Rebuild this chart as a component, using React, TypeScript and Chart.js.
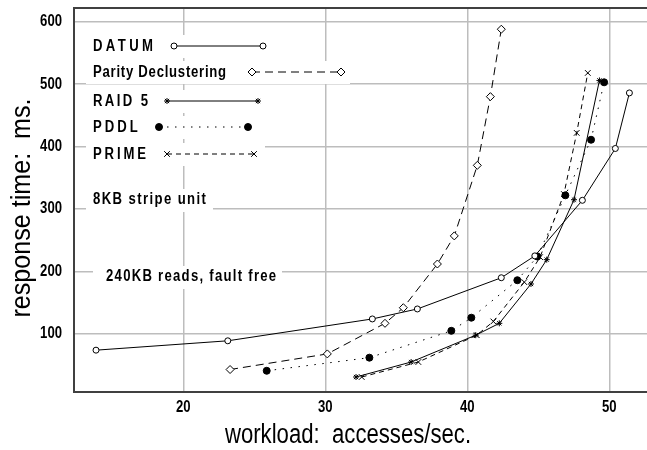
import React, { useEffect, useRef } from "react";
import { Chart, registerables } from "chart.js";
import { drawPoint } from "chart.js/helpers";

Chart.register(...registerables);

const FONT = '"Liberation Sans", Arial, sans-serif';
const NARROW = 0.82;

// ---- data ----
const seriesNames = ["DATUM", "Parity Declustering", "RAID 5", "PDDL", "PRIME"];

const datumX = [13.85, 23.13, 33.31, 36.48, 42.39, 44.75, 48.1, 50.42, 51.41];
const datumY = [74, 89, 124, 140, 190, 225, 314, 397, 486];

const parityX = [23.29, 30.14, 34.2, 35.49, 37.89, 39.08, 40.7, 41.62, 42.39];
const parityY = [43, 68, 117, 142, 212, 257, 370, 480, 588];

const raidX = [32.16, 36.04, 40.59, 42.25, 44.48, 45.59, 47.51, 49.3];
const raidY = [31, 55, 98, 117, 180, 219, 315, 506];

const pddlX = [25.87, 33.1, 38.87, 40.28, 43.52, 44.93, 46.9, 48.71, 49.63];
const pddlY = [41, 62, 105, 126, 186, 224, 322, 411, 503];

const primeX = [32.56, 36.55, 40.66, 41.83, 44.01, 45.12, 46.8, 47.7, 48.48];
const primeY = [31, 55, 98, 120, 183, 223, 324, 422, 518];

const xTicks = [20, 30, 40, 50];
const yTicks = [100, 200, 300, 400, 500, 600];

const xTitle = "workload:  accesses/sec.";
const yTitle = "response time:  ms.";
const notes = ["8KB stripe unit", "240KB reads, fault free"];

// ---- styles ----
const seriesStyles = [
  { pointStyle: "circle", radius: 3, fill: "#ffffff", dash: [] as number[] },
  { pointStyle: "rectRot", radius: 4, fill: "#ffffff", dash: [8, 5] },
  { pointStyle: "star", radius: 3, fill: "#000000", dash: [] as number[] },
  { pointStyle: "circle", radius: 3.5, fill: "#000000", dash: [1.5, 6.5] },
  { pointStyle: "crossRot", radius: 4, fill: "#000000", dash: [5, 4] },
];

const legendLayout = [
  { y: 46, spacing: 3.4, s0: 174, s1: 263, boxR: 272 },
  { y: 72, spacing: 0.75, s0: 252, s1: 341, boxR: 350 },
  { y: 101, spacing: 2.4, s0: 167, s1: 258, boxR: 267 },
  { y: 127, spacing: 3, s0: 159, s1: 248, boxR: 257 },
  { y: 154, spacing: 2.85, s0: 167, s1: 254, boxR: 265 },
];
const noteLayout = [
  { x: 93, y: 200, spacing: 1.4, boxL: 86, boxR: 213 },
  { x: 106, y: 277, spacing: 1.27, boxL: 93, boxR: 282 },
];

const xs = [datumX, parityX, raidX, pddlX, primeX];
const ys = [datumY, parityY, raidY, pddlY, primeY];

function narrowText(ctx: any, text: string, x: number, y: number, spacing: number, scaleX: number) {
  ctx.save();
  ctx.translate(x, y);
  ctx.scale(scaleX, 1);
  ctx.letterSpacing = spacing / scaleX + "px";
  ctx.fillText(text, 0, 0);
  ctx.restore();
}

const annotPlugin = {
  id: "annot",
  beforeDatasetsDraw(chart: any) {
    const ctx = chart.ctx;
    const area = chart.chartArea;
    ctx.save();
    ctx.fillStyle = "#ffffff";
    legendLayout.forEach((l) => {
      ctx.fillRect(86, l.y - 11, l.boxR - 86, 23);
    });
    noteLayout.forEach((n) => {
      ctx.fillRect(n.boxL, n.y - 11, n.boxR - n.boxL, 23);
    });
    // top frame line
    ctx.strokeStyle = "#404040";
    ctx.lineWidth = 2;
    ctx.beginPath();
    ctx.moveTo(area.left - 1, area.top);
    ctx.lineTo(area.right, area.top);
    ctx.stroke();
    ctx.restore();
  },
  afterDatasetsDraw(chart: any) {
    const ctx = chart.ctx;
    ctx.save();
    ctx.fillStyle = "#000000";
    ctx.textBaseline = "middle";
    ctx.textAlign = "left";
    ctx.font = "bold 16px " + FONT;
    seriesNames.forEach((name, i) => {
      const l = legendLayout[i];
      const st = seriesStyles[i];
      ctx.fillStyle = "#000000";
      narrowText(ctx, name, 93, l.y + 1, l.spacing, NARROW);
      ctx.strokeStyle = "#000000";
      ctx.lineWidth = 1;
      ctx.setLineDash(st.dash);
      ctx.beginPath();
      ctx.moveTo(l.s0, l.y);
      ctx.lineTo(l.s1, l.y);
      ctx.stroke();
      ctx.setLineDash([]);
      ctx.fillStyle = st.fill;
      [l.s0, l.s1].forEach((px) => {
        drawPoint(ctx, { pointStyle: st.pointStyle, radius: st.radius, rotation: 0, borderWidth: 1 } as any, px, l.y);
      });
    });
    ctx.fillStyle = "#000000";
    notes.forEach((t, i) => {
      const n = noteLayout[i];
      narrowText(ctx, t, n.x, n.y, n.spacing, NARROW);
    });
    ctx.restore();
  },
  afterDraw(chart: any) {
    const ctx = chart.ctx;
    const xs_ = chart.scales.x;
    const ys_ = chart.scales.y;
    ctx.save();
    ctx.fillStyle = "#000000";
    // tick labels
    ctx.font = "bold 16px " + FONT;
    ctx.textBaseline = "middle";
    ctx.textAlign = "center";
    xTicks.forEach((v) => {
      narrowText(ctx, String(v), xs_.getPixelForValue(v), 408, 0, NARROW);
    });
    ctx.textAlign = "right";
    yTicks.forEach((v) => {
      narrowText(ctx, String(v), 62, ys_.getPixelForValue(v), 0, NARROW);
    });
    // axis titles
    ctx.textAlign = "center";
    ctx.font = "27px " + FONT;
    narrowText(ctx, xTitle, 348, 436, 0, NARROW);
    ctx.translate(23, 208);
    ctx.rotate(-Math.PI / 2);
    narrowText(ctx, yTitle, 0, 0, 0, 0.93);
    ctx.restore();
  },
};

export default function App() {
  const ref = useRef<HTMLCanvasElement>(null);
  useEffect(() => {
    if (!ref.current) return;
    const datasets = seriesNames.map((name, i) => {
      const st = seriesStyles[i];
      return {
        label: name,
        data: xs[i].map((x, j) => ({ x, y: ys[i][j] })),
        borderColor: "#000000",
        borderWidth: 1,
        borderDash: st.dash,
        pointStyle: st.pointStyle,
        pointRadius: st.radius,
        pointBackgroundColor: st.fill,
        pointBorderColor: "#000000",
        pointBorderWidth: 1,
        tension: 0,
        fill: false,
        showLine: true,
      };
    });
    const chart = new Chart(ref.current, {
      type: "scatter",
      data: { datasets } as any,
      plugins: [annotPlugin],
      options: {
        responsive: false,
        animation: false,
        devicePixelRatio: 1,
        layout: { autoPadding: false, padding: { top: 8, right: 0, left: 0, bottom: 0 } },
        plugins: { legend: { display: false }, tooltip: { enabled: false } },
        scales: {
          x: {
            type: "linear",
            min: 12.3,
            max: 52.65,
            afterBuildTicks: (s: any) => {
              s.ticks = xTicks.map((v) => ({ value: v }));
            },
            afterFit: (s: any) => {
              s.height = 58;
              s.paddingLeft = 0;
              s.paddingRight = 0;
            },
            grid: { color: "#bdbdbd", lineWidth: 1.5, drawTicks: false },
            border: { color: "#404040", width: 2 },
            ticks: { display: false },
          },
          y: {
            type: "linear",
            min: 7,
            max: 622,
            afterBuildTicks: (s: any) => {
              s.ticks = yTicks.map((v) => ({ value: v }));
            },
            afterFit: (s: any) => {
              s.width = 74;
              s.paddingTop = 0;
              s.paddingBottom = 0;
            },
            grid: { color: "#bdbdbd", lineWidth: 1.5, drawTicks: false },
            border: { color: "#404040", width: 2 },
            ticks: { display: false },
          },
        },
      } as any,
    });
    return () => chart.destroy();
  }, []);
  return (
    <div style={{ position: "absolute", left: 0, top: 0, width: 647, height: 450, background: "#ffffff" }}>
      <canvas ref={ref} width={647} height={450} style={{ display: "block" }} />
    </div>
  );
}
